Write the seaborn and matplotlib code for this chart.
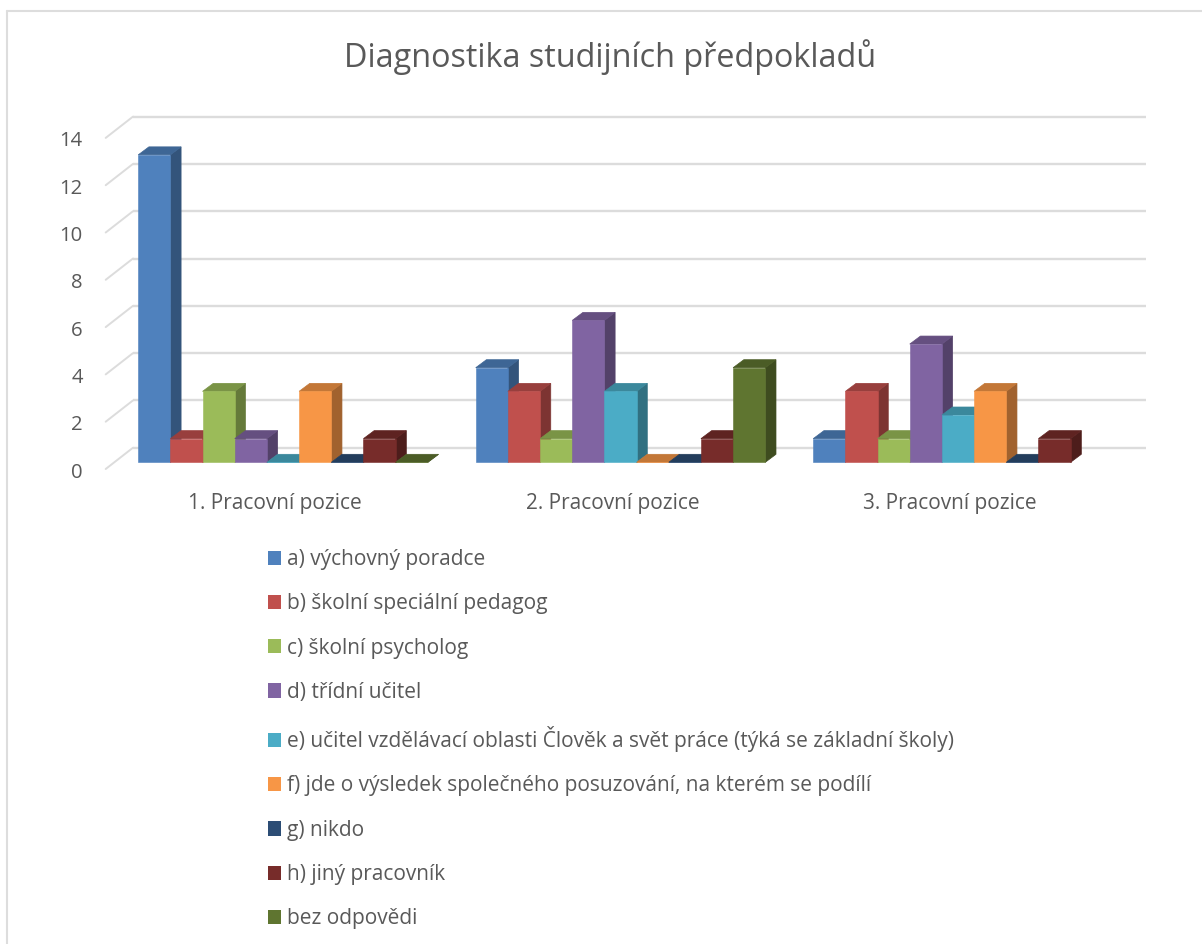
import matplotlib
matplotlib.use("Agg")
import numpy as np
import pandas as pd
import seaborn as sns
import matplotlib.pyplot as plt
from matplotlib.colors import to_rgb
from matplotlib.lines import Line2D
from matplotlib.patches import Polygon
from matplotlib.transforms import Affine2D

positions = ["1. Pracovní pozice", "2. Pracovní pozice", "3. Pracovní pozice"]
answers = [
    "a) výchovný poradce",
    "b) školní speciální pedagog",
    "c) školní psycholog",
    "d) třídní učitel",
    "e) učitel vzdělávací oblasti Člověk a svět práce (týká se základní školy)",
    "f) jde o výsledek společného posuzování, na kterém se podílí",
    "g) nikdo",
    "h) jiný pracovník",
    "bez odpovědi",
]
colors = ["#4F81BD", "#C0504D", "#9BBB59", "#8064A2", "#4BACC6",
          "#F79646", "#2C4D75", "#772C2A", "#5F7530"]
values_pos1 = [13, 1, 3, 1, 0, 3, 0, 1, 0]
values_pos2 = [4, 3, 1, 6, 3, 0, 0, 1, 4]
values_pos3 = [1, 3, 1, 5, 2, 3, 0, 1, np.nan]
title = "Diagnostika studijních předpokladů"
y_ticks = [0, 2, 4, 6, 8, 10, 12, 14]

W, H = 1202, 944
FONT = ["Open Sans", "DejaVu Sans"]
TEXT = "#595959"
GRID = "#DCDCDC"

sns.set_theme(style="white")
plt.rcParams["font.family"] = FONT
plt.rcParams["text.color"] = TEXT

rows = []
for pos, vals in zip(positions, [values_pos1, values_pos2, values_pos3]):
    for ans, v in zip(answers, vals):
        rows.append({"pozice": pos, "odpoved": ans, "pocet": v})
df = pd.DataFrame(rows)

fig = plt.figure(figsize=(W / 100, H / 100), dpi=100, facecolor="white")

# pixel geometry of the plot
px_left, px_right, px_top, px_bottom = 105.7, 1146.0, 110.0, 469.0
ax = fig.add_axes([px_left / W, 1 - px_bottom / H,
                   (px_right - px_left) / W, (px_bottom - px_top) / H])
ax.patch.set_alpha(0)

sns.barplot(data=df, x="pozice", y="pocet", hue="odpoved",
            order=positions, hue_order=answers, palette=colors,
            saturation=1, width=0.858, gap=0, dodge=True, errorbar=None,
            ax=ax, linewidth=0, zorder=10)

PX_X = 337.5     # pixels per category
PX_Y = 23.65     # pixels per y unit
x0_px = 283.0    # pixel of the first category centre
y0_px = 462.3    # pixel of y=0 on the bars' front plane
ax.set_xlim((px_left - x0_px) / PX_X, (px_right - x0_px) / PX_X)
ax.set_ylim((y0_px - px_bottom) / PX_Y, (y0_px - px_top) / PX_Y)

# bar depth
dx = 10.7 / PX_X
dy = 8.0 / PX_Y
# back wall offset
wall_dy = 14.6 / PX_Y
wall_x = (133.0 - x0_px) / PX_X
xl, xr = ax.get_xlim()
yb = ax.get_ylim()[0]


def shade(c, f):
    return tuple(v * f for v in to_rgb(c))


# 3D faces built from the bars themselves
for i, (container, color) in enumerate(zip(ax.containers, colors)):
    for bar in container:
        h = bar.get_height()
        if np.isnan(h):
            continue
        x1, x2 = bar.get_x(), bar.get_x() + bar.get_width()
        order = 10 + 3 * i
        side, top = shade(color, 0.65), shade(color, 0.79)
        ax.add_patch(Polygon([(x2, 0), (x2 + dx, dy), (x2 + dx, h + dy), (x2, h)],
                             closed=True, facecolor=side,
                             edgecolor=side, linewidth=0.5, zorder=order - 2))
        ax.add_patch(Polygon([(x1, h), (x2, h), (x2 + dx, h + dy), (x1 + dx, h + dy)],
                             closed=True, facecolor=top,
                             edgecolor=top, linewidth=0.5, zorder=order - 1))
        bar.set_zorder(order)
        bar.set_edgecolor(color)
        bar.set_linewidth(0.4)

# gridlines on the back wall and diagonal walls
for t in y_ticks:
    ax.plot([wall_x, xr], [t + wall_dy, t + wall_dy], color=GRID, lw=1.7,
            zorder=1, clip_on=False, solid_capstyle="butt")
    ax.plot([wall_x, xl], [t + wall_dy, t + yb], color=GRID, lw=1.4,
            zorder=1, clip_on=False)

for s in ax.spines.values():
    s.set_visible(False)
ax.set_xlabel("")
ax.set_ylabel("")
ax.set_yticks(y_ticks)
ax.tick_params(axis="y", length=0, pad=16.5, labelsize=14.6, labelcolor=TEXT)
ax.tick_params(axis="x", length=0, pad=17, labelsize=15, labelcolor=TEXT)

for lab in ax.get_yticklabels():
    lab.set_transform(lab.get_transform() + Affine2D().translate(0, (yb * PX_Y) - 1))
for lab in ax.get_xticklabels():
    lab.set_transform(lab.get_transform() + Affine2D().translate(-8.0, 0))

sns.move_legend(ax, "upper left", bbox_to_anchor=(267.5 / W, 1 - 549 / H),
                bbox_transform=fig.transFigure, frameon=False, title=None,
                ncol=1, fontsize=15, handlelength=0.67, handleheight=0.67,
                handletextpad=0.28, labelspacing=1.118, borderpad=0, borderaxespad=0,
                labelcolor=TEXT)

fig.text(610.5 / W, 1 - 57 / H, title, ha="center", va="center",
         fontsize=23.3, color=TEXT)

# chart frame: left and top edges
fig.add_artist(Line2D([6.5 / W, 6.5 / W], [0, 1 - 10.5 / H], color="#DDDDDD", lw=1.5,
                      transform=fig.transFigure))
fig.add_artist(Line2D([6.5 / W, 1], [1 - 10.5 / H, 1 - 10.5 / H], color="#DDDDDD", lw=1.5,
                      transform=fig.transFigure))

fig.savefig("out.png", dpi=100, facecolor="white")
